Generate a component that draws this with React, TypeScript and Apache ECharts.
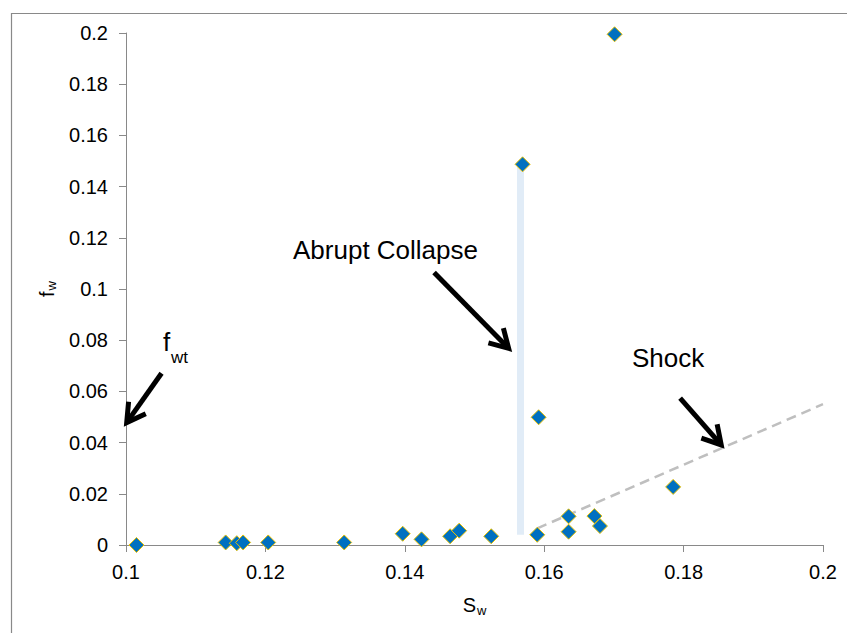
import React, { useEffect, useRef } from "react";
import * as echarts from "echarts";

// Scatter data (S_w, f_w)
const swValues = [0.1015, 0.1143, 0.1159, 0.1168, 0.1204, 0.1313, 0.1397, 0.1424, 0.1465, 0.1478, 0.1524, 0.1569, 0.159, 0.1592, 0.1635, 0.1635, 0.1672, 0.168, 0.1701, 0.1785];
const fwValues = [0, 0.001, 0.0007, 0.001, 0.001, 0.001, 0.0044, 0.0022, 0.0034, 0.0056, 0.0034, 0.1487, 0.004, 0.0499, 0.0112, 0.0052, 0.0113, 0.0074, 0.1995, 0.0227];

// Shock trend line (dashed)
const shockX = [0.159, 0.2];
const shockY = [0.0065, 0.055];

// Abrupt collapse band (vertical)
const bandX = [0.1566, 0.1566];
const bandY = [0.004, 0.148];

// Annotation arrows: [x start, y start, x tip, y tip]
const arrowStartX = [0.1442, 0.1795, 0.1051];
const arrowStartY = [0.1064, 0.0574, 0.0671];
const arrowTipX = [0.1549, 0.1854, 0.1001];
const arrowTipY = [0.0768, 0.0391, 0.0478];

// Axis ticks
const xMin = 0.1, xMax = 0.2, xStep = 0.02;
const yMin = 0, yMax = 0.2, yStep = 0.02;

const FONT = "'Liberation Sans', Arial, sans-serif";

export default function App() {
  const ref = useRef<HTMLDivElement>(null);
  useEffect(() => {
    if (!ref.current) return;
    const chart = echarts.init(ref.current, undefined, { renderer: "svg" });
    const axisColor = "#898989";
    const points = swValues.map((x, i) => [x, fwValues[i]]);
    const shock = shockX.map((x, i) => [x, shockY[i]]);
    const band = bandX.map((x, i) => [x, bandY[i]]);
    const arrows = arrowStartX.map((x, i) => [x, arrowStartY[i], arrowTipX[i], arrowTipY[i]]);

    chart.setOption({
      animation: false,
      backgroundColor: "#fff",
      textStyle: { fontFamily: FONT },
      grid: { left: 126, right: 24, top: 33, bottom: 88, containLabel: false },
      xAxis: {
        type: "value",
        min: xMin,
        max: xMax,
        interval: xStep,
        splitLine: { show: false },
        axisLine: { show: true, lineStyle: { color: axisColor, width: 1 } },
        axisTick: { show: true, length: 7, lineStyle: { color: axisColor } },
        axisLabel: { fontSize: 20, color: "#000", margin: 17, fontFamily: FONT, showMinLabel: true, showMaxLabel: true },
        name: "{a|S}{b|w}",
        nameLocation: "middle",
        nameGap: 48,
        nameTextStyle: {
          rich: {
            a: { fontSize: 20, color: "#000", fontFamily: FONT, lineHeight: 24 },
            b: { fontSize: 13, color: "#000", fontFamily: FONT, padding: [10, 0, 0, 1] },
          },
        },
      },
      yAxis: {
        type: "value",
        min: yMin,
        max: yMax,
        interval: yStep,
        splitLine: { show: false },
        axisLine: { show: true, lineStyle: { color: axisColor, width: 1 } },
        axisTick: { show: true, length: 7, lineStyle: { color: axisColor } },
        axisLabel: { fontSize: 20, color: "#000", margin: 18, fontFamily: FONT, showMinLabel: true, showMaxLabel: true },
        name: "{a|f}{b|w}",
        nameLocation: "middle",
        nameRotate: 90,
        nameGap: 64,
        nameTextStyle: {
          rich: {
            a: { fontSize: 20, color: "#000", fontFamily: FONT, lineHeight: 24 },
            b: { fontSize: 13, color: "#000", fontFamily: FONT, padding: [10, 0, 0, 1] },
          },
        },
      },
      series: [
        {
          type: "line",
          data: band,
          symbol: "none",
          lineStyle: { color: "#e1ecf7", width: 7, cap: "butt" },
          z: 1,
          silent: true,
        },
        {
          type: "line",
          data: shock,
          symbol: "none",
          lineStyle: { color: "#bfbfbf", width: 2.5, type: [10, 6] },
          z: 2,
          silent: true,
        },
        {
          type: "custom",
          coordinateSystem: "cartesian2d",
          data: arrows,
          encode: { x: [0, 2], y: [1, 3] },
          z: 3,
          silent: true,
          renderItem: (params: any, api: any) => {
            const p1 = api.coord([api.value(0), api.value(1)]);
            const p2 = api.coord([api.value(2), api.value(3)]);
            const dx = p2[0] - p1[0];
            const dy = p2[1] - p1[1];
            const len = Math.sqrt(dx * dx + dy * dy);
            const ux = dx / len, uy = dy / len;
            const head = 21;
            const ang = (30 * Math.PI) / 180;
            const bx = -ux, by = -uy;
            const a1 = [p2[0] + head * (bx * Math.cos(ang) - by * Math.sin(ang)), p2[1] + head * (bx * Math.sin(ang) + by * Math.cos(ang))];
            const a2 = [p2[0] + head * (bx * Math.cos(-ang) - by * Math.sin(-ang)), p2[1] + head * (bx * Math.sin(-ang) + by * Math.cos(-ang))];
            const tipInset = [p2[0] - ux * 3, p2[1] - uy * 3];
            return {
              type: "group",
              children: [
                {
                  type: "line",
                  shape: { x1: p1[0], y1: p1[1], x2: tipInset[0], y2: tipInset[1] },
                  style: { stroke: "#000", lineWidth: 5, lineCap: "butt" },
                },
                {
                  type: "polyline",
                  shape: { points: [a1, p2, a2] },
                  style: { stroke: "#000", lineWidth: 5, fill: "none", lineJoin: "miter", miterLimit: 10 },
                },
              ],
            };
          },
        },
        {
          type: "scatter",
          data: points,
          symbol: "diamond",
          symbolSize: 15,
          itemStyle: { color: "#0070c0", borderColor: "#e8c000", borderWidth: 1, opacity: 1 },
          z: 5,
        },
      ],
      graphic: [
        {
          type: "rect",
          left: 9,
          top: 11,
          shape: { x: 0.5, y: 0.5, width: 900, height: 700 },
          style: { fill: "none", stroke: "#898989", lineWidth: 1.2 },
          silent: true,
          z: 0,
        },
        {
          type: "text",
          left: 293,
          top: 237,
          style: { text: "Abrupt Collapse", fontSize: 26, fill: "#000", fontFamily: FONT },
          z: 10,
        },
        {
          type: "text",
          left: 632,
          top: 345,
          style: { text: "Shock", fontSize: 26, fill: "#000", fontFamily: FONT },
          z: 10,
        },
        {
          type: "text",
          left: 163,
          top: 329,
          style: { text: "f", fontSize: 26, fill: "#000", fontFamily: FONT },
          z: 10,
        },
        {
          type: "text",
          left: 171,
          top: 349,
          style: { text: "wt", fontSize: 17, fill: "#000", fontFamily: FONT },
          z: 10,
        },
      ],
    });
    return () => chart.dispose();
  }, []);
  return (
    <div
      ref={ref}
      style={{ position: "absolute", left: 0, top: 0, width: 847, height: 633, background: "#fff" }}
    />
  );
}
